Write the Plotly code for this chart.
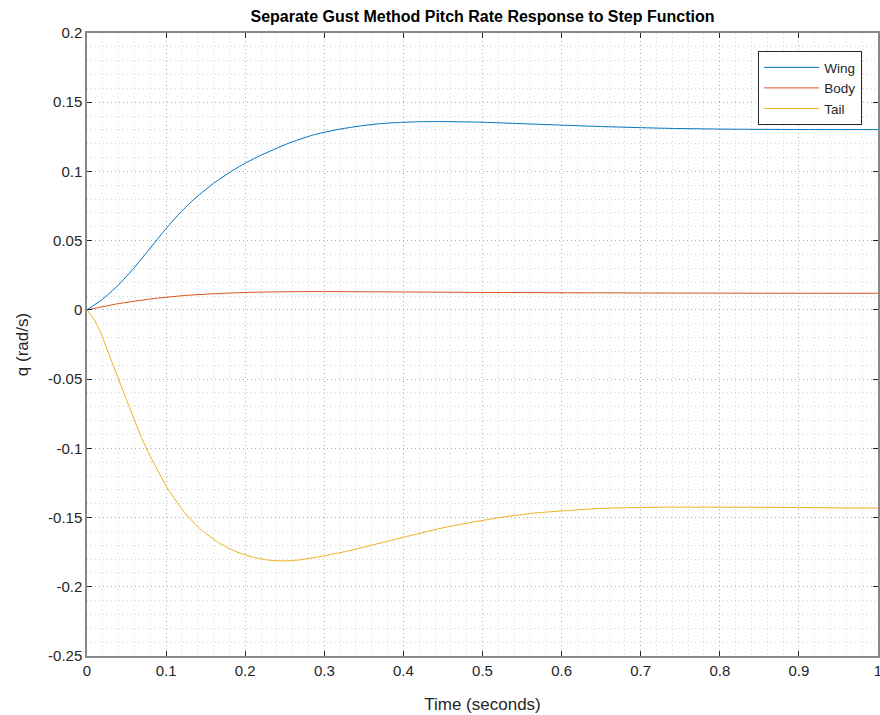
import plotly.graph_objects as go

# values (time in seconds, q in rad/s)
wing_t = [0, 0.0185, 0.0395, 0.0605, 0.086, 0.0986, 0.1155, 0.134, 0.158, 0.183,
          0.202, 0.218, 0.254, 0.285, 0.315, 0.345, 0.37, 0.396, 0.42, 0.446,
          0.497, 0.5685, 0.652, 0.737, 0.821, 0.9, 1.0]
wing_q = [0, 0.0072, 0.0178, 0.031, 0.0489, 0.0578, 0.0688, 0.0793, 0.0906, 0.1003,
          0.1066, 0.1112, 0.1202, 0.1262, 0.1301, 0.1328, 0.1345, 0.1354, 0.1359, 0.136,
          0.1356, 0.1341, 0.1324, 0.1311, 0.1305, 0.1303, 0.1302]

body_t = [0, 0.0395, 0.0815, 0.1235, 0.1655, 0.2076, 0.2496, 0.298, 0.4125, 0.497,
          0.65, 0.8, 1.0]
body_q = [0, 0.0045, 0.008, 0.0104, 0.0118, 0.0127, 0.0131, 0.0132, 0.0129, 0.0126,
          0.0123, 0.0121, 0.012]

tail_t = [0, 0.0101, 0.0185, 0.029, 0.0395, 0.05, 0.0605, 0.071, 0.0815, 0.1025,
          0.1235, 0.1445, 0.1655, 0.1866, 0.2076, 0.2286, 0.2496, 0.2706, 0.298, 0.328,
          0.37, 0.4126, 0.455, 0.497, 0.526, 0.5685, 0.653, 0.737, 0.85, 1.0]
tail_q = [0, -0.008, -0.018, -0.034, -0.0495, -0.065, -0.0805, -0.095, -0.1075, -0.1295,
          -0.1465, -0.159, -0.1678, -0.1742, -0.1783, -0.1807, -0.1813, -0.1805, -0.1778, -0.1744,
          -0.1685, -0.1625, -0.1568, -0.1524, -0.1496, -0.1466, -0.1433, -0.1425, -0.1426, -0.1432]

x_ticks = [0, 0.1, 0.2, 0.3, 0.4, 0.5, 0.6, 0.7, 0.8, 0.9, 1]
x_labels = ["0", "0.1", "0.2", "0.3", "0.4", "0.5", "0.6", "0.7", "0.8", "0.9", "1"]
y_ticks = [0.2, 0.15, 0.1, 0.05, 0, -0.05, -0.1, -0.15, -0.2, -0.25]
y_labels = ["0.2", "0.15", "0.1", "0.05", "0", "-0.05", "-0.1", "-0.15", "-0.2", "-0.25"]

font = "Liberation Sans, Arial, Helvetica, sans-serif"
ink = "#262626"
grid = "rgba(38,38,38,0.2)"

fig = go.Figure()
for name, t, q, color in [
    ("Wing", wing_t, wing_q, "#0072BD"),
    ("Body", body_t, body_q, "#D95319"),
    ("Tail", tail_t, tail_q, "#EDB120"),
]:
    fig.add_trace(go.Scatter(
        x=t, y=q, name=name, mode="lines",
        line=dict(color=color, width=1, shape="spline", smoothing=0.5)
    ))

axis_common = dict(
    showline=True,
    linecolor="#888888",
    linewidth=1.5,
    mirror="ticks",
    ticks="inside",
    ticklen=5,
    tickcolor=ink,
    tickfont=dict(family=font, size=15, color=ink),
    ticklabeloverflow="allow",
    showgrid=True,
    gridcolor=grid,
    griddash="1px,3px",
    gridwidth=1,
    zeroline=False,
    automargin=False,
)

fig.update_xaxes(
    range=[0, 1],
    tickvals=x_ticks,
    ticktext=x_labels,
    minor=dict(dtick=0.02, showgrid=True, gridcolor=grid, griddash="1px,3px", gridwidth=1, ticks=""),
    title=dict(text="Time (seconds)", font=dict(family=font, size=17, color=ink), standoff=20),
    **axis_common
)
fig.update_yaxes(
    range=[-0.25, 0.2],
    tickvals=y_ticks,
    ticktext=y_labels,
    minor=dict(dtick=0.01, showgrid=True, gridcolor=grid, griddash="1px,3px", gridwidth=1, ticks=""),
    title=dict(text="q (rad/s)", font=dict(family=font, size=17, color=ink), standoff=15),
    **axis_common
)

fig.update_layout(
    width=880,
    height=715,
    margin=dict(l=87, r=2, t=33, b=59),
    paper_bgcolor="white",
    plot_bgcolor="white",
    title=dict(
        text="<b>Separate Gust Method Pitch Rate Response to Step Function</b>",
        font=dict(family=font, size=16, color="black"),
        x=0.5, xanchor="center", xref="paper",
        y=1, yref="container", yanchor="top", pad=dict(t=11)
    ),
    legend=dict(
        x=0.98, y=0.971, xanchor="right", yanchor="top",
        bgcolor="white",
        bordercolor=ink,
        borderwidth=1,
        font=dict(family=font, size=13.5, color=ink),
        tracegroupgap=0,
        itemwidth=55,
    ),
    showlegend=True,
)

# drop the default page margin so the figure sits at the window's top-left
fix_page = (
    "document.body.style.margin='0';"
    "document.body.style.overflow='hidden';"
    "Plotly.relayout(document.getElementById('{plot_id}'), {width: 880, height: 715});"
)

fig.write_html("out.html", post_script=fix_page,
               config={"responsive": False, "displayModeBar": False})
